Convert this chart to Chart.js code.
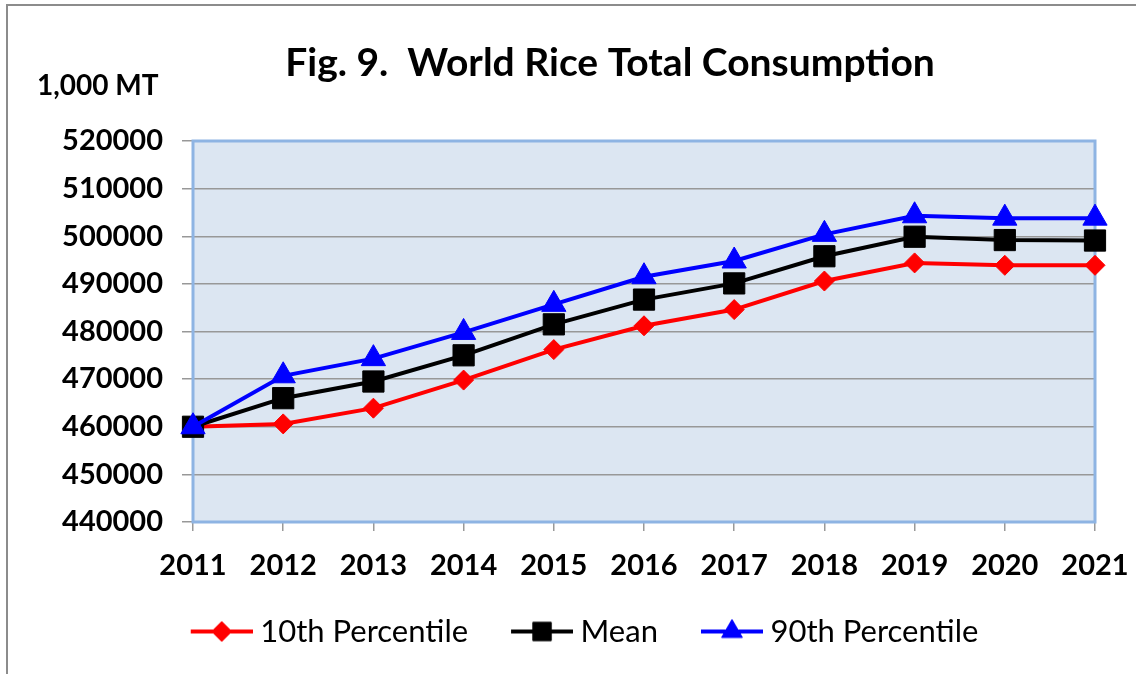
<!DOCTYPE html>
<html>
<head>
  <meta charset="utf-8">
  <title>World Rice Total Consumption</title>
  <script src="https://cdn.jsdelivr.net/npm/chart.js@4.4.1/dist/chart.umd.min.js"></script>
  <style>
    html, body { margin: 0; padding: 0; background: #fff; overflow: hidden; }
    .frame {
      position: absolute; left: 6px; top: 4px;
      width: 1300px; height: 900px;
      border: 2px solid #8c8c8c;
    }
    .chart-box { position: absolute; left: 0; top: 0; width: 1136px; height: 657px; }
  </style>
</head>
<body>
  <div class="frame"></div>
  <div class="chart-box"><canvas id="rice-chart"></canvas></div>
  <script>
    // data (1,000 MT)
    const years = ['2011', '2012', '2013', '2014', '2015', '2016', '2017', '2018', '2019', '2020', '2021'];
    const pct10 = [460000, 460600, 463900, 469800, 476200, 481200, 484600, 490600, 494400, 493900, 493900];
    const mean  = [460000, 466000, 469500, 475000, 481500, 486700, 490100, 495800, 499900, 499200, 499100];
    const pct90 = [460000, 470700, 474300, 479800, 485700, 491500, 494800, 500400, 504300, 503800, 503800];
    const yMin = 440000, yMax = 520000, yStep = 10000;

    const titleText = 'Fig. 9.  World Rice Total Consumption';
    const unitText = '1,000 MT';

    // legend icon: line with the marker, sitting at the right end of a wider box
    const iconBox = 87;
    function makeIcon(color, style, radius) {
      const c = document.createElement('canvas');
      c.width = iconBox + 16; c.height = 32;
      const ctx = c.getContext('2d');
      const x0 = c.width - 62, cy = 16;
      ctx.strokeStyle = color; ctx.lineWidth = 4;
      ctx.beginPath(); ctx.moveTo(x0, cy); ctx.lineTo(c.width, cy); ctx.stroke();
      ctx.fillStyle = color; ctx.lineWidth = 1;
      Chart.helpers.drawPoint(ctx, { pointStyle: style, radius: radius, borderWidth: 1, rotation: 0 }, x0 + 31, cy);
      return c;
    }
    const icons = [
      makeIcon('#ff0000', 'rectRot', 10),
      makeIcon('#000000', 'rect', 13),
      makeIcon('#0000ff', 'triangle', 12)
    ];

    const plotBg = {
      id: 'plotBg',
      beforeDraw(chart) {
        const { ctx, chartArea: a } = chart;
        ctx.save();
        ctx.fillStyle = '#dce6f2';
        ctx.fillRect(a.left, a.top, a.width, a.height);
        ctx.restore();
      },
      beforeDatasetsDraw(chart) {
        const { ctx, chartArea: a } = chart;
        ctx.save();
        ctx.strokeStyle = '#8eb4e3';
        ctx.lineWidth = 3;
        ctx.strokeRect(a.left, a.top, a.width, a.height);
        ctx.restore();
      }
    };

    const headings = {
      id: 'headings',
      afterDraw(chart) {
        const ctx = chart.ctx;
        ctx.save();
        ctx.fillStyle = '#000';
        ctx.textBaseline = 'middle';
        ctx.textAlign = 'center';
        ctx.font = 'bold 39px Lato';
        ctx.fillText(titleText, 610, 63);
        ctx.textAlign = 'left';
        ctx.font = 'bold 28px Lato';
        ctx.fillText(unitText, 37, 86);
        ctx.restore();
      }
    };

    new Chart(document.getElementById('rice-chart'), {
      type: 'line',
      data: {
        labels: years,
        datasets: [
          { label: '10th Percentile', data: pct10, order: 2, borderColor: '#ff0000', backgroundColor: '#ff0000',
            pointStyle: 'rectRot', pointRadius: 10, pointBorderWidth: 1 },
          { label: 'Mean', data: mean, order: 1, borderColor: '#000000', backgroundColor: '#000000',
            pointStyle: 'rect', pointRadius: 15, pointBorderWidth: 1 },
          { label: '90th Percentile', data: pct90, order: 0, borderColor: '#0000ff', backgroundColor: '#0000ff',
            pointStyle: 'triangle', pointRadius: 14, pointBorderWidth: 1 }
        ]
      },
      options: {
        responsive: true,
        maintainAspectRatio: false,
        animation: false,
        layout: { padding: { left: 0, right: 0, top: 141, bottom: 0 } },
        elements: { line: { borderWidth: 4, tension: 0 } },
        scales: {
          x: {
            grid: { drawOnChartArea: false, tickLength: 9, color: '#999', lineWidth: 1.5 },
            border: { display: false },
            ticks: { color: '#000', padding: 17, font: { family: 'Lato', size: 29, weight: 'bold' }, maxRotation: 0 },
            afterFit(scale) { scale.height = 84; scale.paddingRight = 41; scale.paddingLeft = 0; }
          },
          y: {
            min: yMin, max: yMax,
            grid: { color: '#989898', lineWidth: 1.5, tickLength: 11 },
            border: { display: false },
            ticks: { stepSize: yStep, color: '#000', padding: 19, font: { family: 'Lato', size: 29, weight: 'bold' },
              callback: v => String(v) },
            afterFit(scale) { scale.width = 193; }
          }
        },
        plugins: {
          tooltip: { enabled: false },
          legend: {
            position: 'bottom',
            labels: {
              usePointStyle: true,
              pointStyleWidth: iconBox,
              padding: 10,
              color: '#000',
              font: { family: 'Lato', size: 31 },
              sort: (a, b) => a.datasetIndex - b.datasetIndex,
              generateLabels(chart) {
                const items = Chart.defaults.plugins.legend.labels.generateLabels(chart);
                items.forEach(it => { it.pointStyle = icons[it.datasetIndex]; });
                return items;
              }
            }
          }
        }
      },
      plugins: [plotBg, headings]
    });
  </script>
</body>
</html>
